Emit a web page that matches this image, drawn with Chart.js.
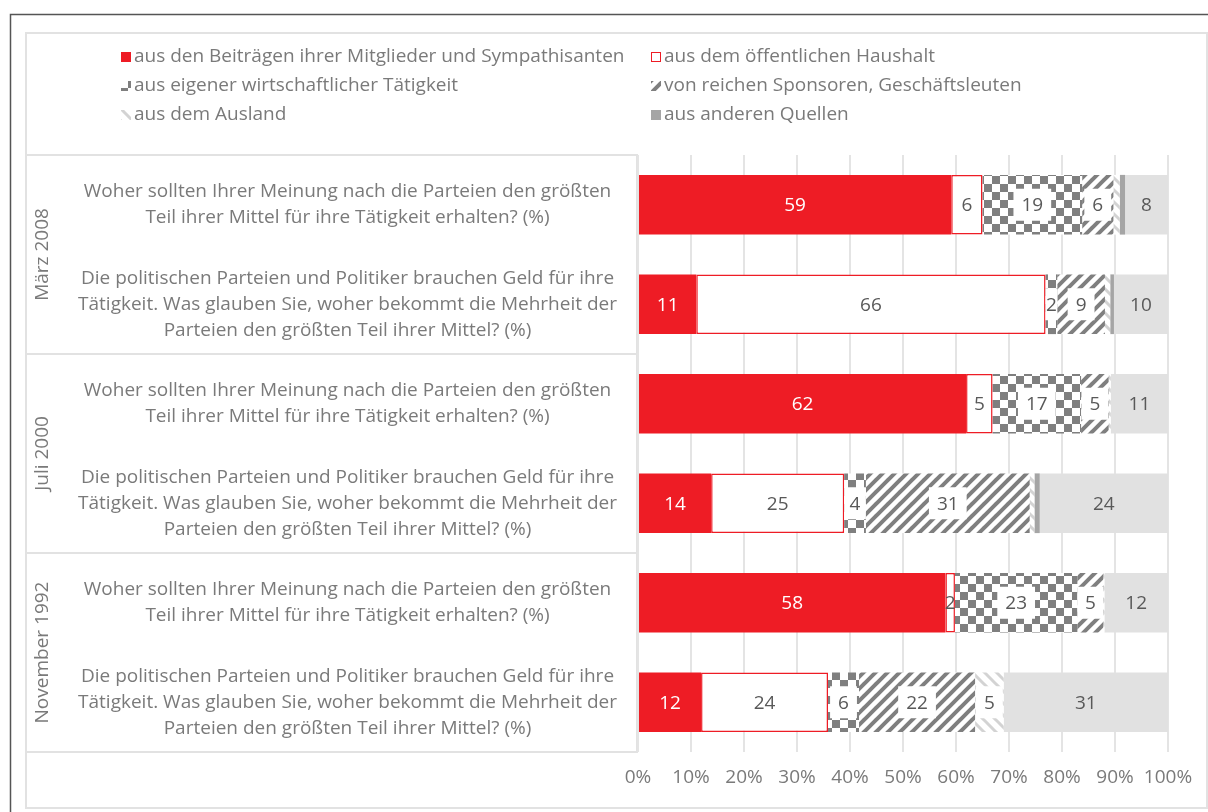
<!DOCTYPE html>
<html lang="de">
<head>
<meta charset="utf-8">
<title>Parteienfinanzierung</title>
<script src="https://cdn.jsdelivr.net/npm/chart.js@4.4.1/dist/chart.umd.min.js"></script>
<style>
html, body { margin: 0; padding: 0; background: #fff; }
#wrap { width: 1208px; height: 812px; }
</style>
</head>
<body>
<div id="wrap"><canvas id="chart" width="1208" height="812"></canvas></div>
<script>
// one label per bar, top to bottom
var frageSoll = ["Woher sollten Ihrer Meinung nach die Parteien den größten", "Teil ihrer Mittel für ihre Tätigkeit erhalten? (%)"];
var frageIst = ["Die politischen Parteien und Politiker brauchen Geld für ihre", "Tätigkeit. Was glauben Sie, woher bekommt die Mehrheit der", "Parteien den größten Teil ihrer Mittel? (%)"];
var fragen = [frageSoll, frageIst, frageSoll, frageIst, frageSoll, frageIst];
var gruppen = ["März 2008", "Juli 2000", "November 1992"];

// values in %
var beitraege   = [59.1, 11.0, 61.9, 13.8, 58.0, 11.9];
var haushalt    = [5.9, 65.9, 5.0, 25.1, 1.8, 23.95];
var eigene      = [18.8, 2.2, 16.7, 4.1, 23.1, 5.85];
var sponsoren   = [5.9, 9.0, 5.2, 30.9, 4.9, 21.9];
var ausland     = [1.2, 1.0, 0.4, 0.9, 0.2, 5.4];
var andere      = [1.0, 0.7, 0, 1.0, 0, 0];
var keineAngabe = [8.1, 10.2, 10.8, 24.2, 12.0, 31.0];

var xTicks = [0, 10, 20, 30, 40, 50, 60, 70, 80, 90, 100];

var FONT = "'Open Sans', sans-serif";
var GRAU = '#7a7a7a';
var ROT = '#ee1c25';
var FS = 19;

function makePattern(type) {
    var c = document.createElement('canvas');
    var g = c.getContext('2d');
    if (type === 'checker') {
        c.width = 16; c.height = 16;
        g.fillStyle = '#fff'; g.fillRect(0, 0, 16, 16);
        g.fillStyle = '#7f7f7f';
        g.fillRect(0, 0, 8, 8);
        g.fillRect(8, 8, 8, 8);
    } else {
        var p = 12;
        c.width = p; c.height = p;
        g.fillStyle = '#fff'; g.fillRect(0, 0, p, p);
        g.lineCap = 'square';
        if (type === 'up') {
            g.strokeStyle = '#7f7f7f'; g.lineWidth = 4;
            for (var k = -1; k <= 1; k++) {
                g.beginPath(); g.moveTo(k * p, p); g.lineTo(k * p + p, 0); g.stroke();
            }
        } else {
            g.strokeStyle = '#d3d3d3'; g.lineWidth = 3;
            for (var k2 = -1; k2 <= 1; k2++) {
                g.beginPath(); g.moveTo(k2 * p, 0); g.lineTo(k2 * p + p, p); g.stroke();
            }
        }
    }
    return document.getElementById('chart').getContext('2d').createPattern(c, 'repeat');
}

// frame, table boxes and rotated group labels
var framePlugin = {
    id: 'frame',
    beforeDraw: function(chart) {
        var ctx = chart.ctx, a = chart.chartArea;
        ctx.save();
        ctx.strokeStyle = '#555';
        ctx.lineWidth = 1.5;
        ctx.beginPath();
        ctx.moveTo(10.5, 812); ctx.lineTo(10.5, 14.5); ctx.lineTo(1208, 14.5);
        ctx.stroke();

        ctx.strokeStyle = '#e2e2e2';
        ctx.lineWidth = 2;
        ctx.strokeRect(26, 33, 1181, 775);
        ctx.beginPath();
        for (var g = 0; g <= gruppen.length; g++) {
            var y = a.top + (a.bottom - a.top) * g / gruppen.length;
            ctx.moveTo(26, y); ctx.lineTo(a.left, y);
        }
        ctx.moveTo(a.left - 1, a.top); ctx.lineTo(a.left - 1, a.bottom);
        ctx.stroke();
        ctx.restore();
    },
    afterDraw: function(chart) {
        var ctx = chart.ctx, ys = chart.scales.y;
        ctx.save();
        ctx.fillStyle = GRAU;
        ctx.font = FS + 'px ' + FONT;
        ctx.textAlign = 'center';
        ctx.textBaseline = 'middle';
        for (var g = 0; g < gruppen.length; g++) {
            var yc = (ys.getPixelForValue(2 * g) + ys.getPixelForValue(2 * g + 1)) / 2;
            ctx.save();
            ctx.translate(43, yc);
            ctx.rotate(-Math.PI / 2);
            ctx.fillText(gruppen[g], 0, 0);
            ctx.restore();
        }
        ctx.restore();
    }
};

// numbers inside the segments
var labelPlugin = {
    id: 'segLabels',
    afterDatasetsDraw: function(chart) {
        var ctx = chart.ctx;
        ctx.save();
        ctx.font = FS + 'px ' + FONT;
        ctx.textAlign = 'center';
        ctx.textBaseline = 'middle';
        chart.data.datasets.forEach(function(ds, i) {
            var meta = chart.getDatasetMeta(i);
            meta.data.forEach(function(bar, j) {
                var v = ds.data[j];
                if (v < 1.5) return;
                var txt = String(Math.round(v));
                var left = Math.min(bar.x, bar.base), right = Math.max(bar.x, bar.base);
                var cx = (left + right) / 2;
                if (ds.boxed) {
                    var w = ctx.measureText(txt).width + 16;
                    var x0 = Math.max(left, cx - w / 2), x1 = Math.min(right, cx + w / 2);
                    ctx.fillStyle = '#fff';
                    ctx.fillRect(x0, bar.y - 16, x1 - x0, 32);
                }
                ctx.fillStyle = ds.labelColor;
                ctx.fillText(txt, cx, bar.y + 1);
            });
        });
        ctx.restore();
    }
};

// two-column legend at the top
var legendPlugin = {
    id: 'gridLegend',
    afterDraw: function(chart) {
        var ctx = chart.ctx;
        var cols = [121, 651], rows = [57, 86, 115];
        var items = chart.data.datasets.filter(function(d) { return d.inLegend; });
        ctx.save();
        ctx.font = FS + 'px ' + FONT;
        ctx.textBaseline = 'middle';
        items.forEach(function(d, i) {
            var x = cols[i % 2], y = rows[Math.floor(i / 2)];
            ctx.fillStyle = d.backgroundColor;
            ctx.fillRect(x, y - 5, 10, 10);
            if (d.borderWidth) {
                ctx.strokeStyle = d.borderColor;
                ctx.lineWidth = 1;
                ctx.strokeRect(x + 0.5, y - 4.5, 9, 9);
            }
            ctx.fillStyle = GRAU;
            ctx.fillText(d.label, x + 13, y);
        });
        ctx.restore();
    }
};

Chart.defaults.font.family = FONT;
Chart.defaults.color = GRAU;

new Chart(document.getElementById('chart'), {
    type: 'bar',
    data: {
        labels: fragen,
        datasets: [
            { label: 'aus den Beiträgen ihrer Mitglieder und Sympathisanten', data: beitraege,
              backgroundColor: ROT, borderWidth: 0, labelColor: '#fff', inLegend: true },
            { label: 'aus dem öffentlichen Haushalt', data: haushalt,
              backgroundColor: '#fff', borderColor: ROT, borderWidth: 1.5, borderSkipped: false,
              labelColor: '#595959', inLegend: true },
            { label: 'aus eigener wirtschaftlicher Tätigkeit', data: eigene,
              backgroundColor: makePattern('checker'), borderWidth: 0, labelColor: '#595959', boxed: true, inLegend: true },
            { label: 'von reichen Sponsoren, Geschäftsleuten', data: sponsoren,
              backgroundColor: makePattern('up'), borderWidth: 0, labelColor: '#595959', boxed: true, inLegend: true },
            { label: 'aus dem Ausland', data: ausland,
              backgroundColor: makePattern('down'), borderWidth: 0, labelColor: '#595959', boxed: true, inLegend: true },
            { label: 'aus anderen Quellen', data: andere,
              backgroundColor: '#a5a5a5', borderWidth: 0, labelColor: '#595959', inLegend: true },
            { label: 'keine Angabe', data: keineAngabe,
              backgroundColor: '#e1e1e1', borderWidth: 0, labelColor: '#595959', inLegend: false }
        ]
    },
    options: {
        indexAxis: 'y',
        responsive: false,
        animation: false,
        layout: { padding: { left: 26, right: 40, top: 155, bottom: 4 } },
        datasets: { bar: { barPercentage: 0.6, categoryPercentage: 1.0 } },
        plugins: {
            legend: { display: false },
            tooltip: { enabled: false }
        },
        scales: {
            x: {
                stacked: true,
                min: 0, max: 100,
                afterBuildTicks: function(scale) {
                    scale.ticks = xTicks.map(function(v) { return { value: v }; });
                },
                afterFit: function(scale) { scale.height = 56; },
                grid: { color: '#e4e4e4', lineWidth: 2, drawTicks: false },
                border: { display: false },
                ticks: {
                    padding: 14,
                    color: GRAU,
                    font: { size: FS },
                    autoSkip: false,
                    maxRotation: 0,
                    minRotation: 0,
                    callback: function(v) { return v + '%'; }
                }
            },
            y: {
                stacked: true,
                afterFit: function(scale) { scale.width = 612; },
                grid: { display: false, drawTicks: false },
                border: { display: false },
                ticks: {
                    crossAlign: 'center',
                    padding: 21,
                    color: GRAU,
                    font: { size: FS, lineHeight: 26 / FS }
                }
            }
        }
    },
    plugins: [framePlugin, labelPlugin, legendPlugin]
});
</script>
</body>
</html>
